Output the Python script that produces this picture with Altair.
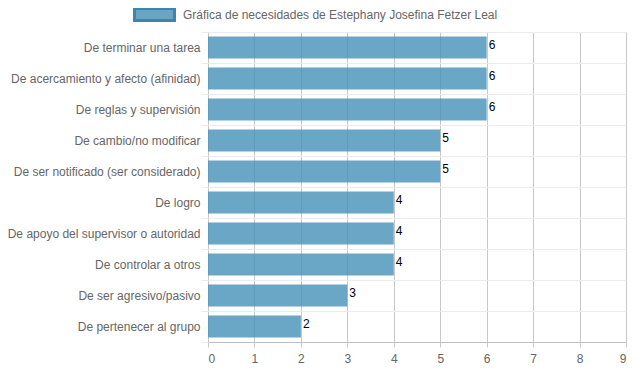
import altair as alt
import pandas as pd

categories = [
    "De terminar una tarea",
    "De acercamiento y afecto (afinidad)",
    "De reglas y supervisión",
    "De cambio/no modificar",
    "De ser notificado (ser considerado)",
    "De logro",
    "De apoyo del supervisor o autoridad",
    "De controlar a otros",
    "De ser agresivo/pasivo",
    "De pertenecer al grupo",
]
values = [6, 6, 6, 5, 5, 4, 4, 4, 3, 2]
series_name = "Gráfica de necesidades de Estephany Josefina Fetzer Leal"
x_ticks = [0, 1, 2, 3, 4, 5, 6, 7, 8, 9]

df = pd.DataFrame({
    "cat": categories,
    "val": values,
    "series": [series_name] * len(categories),
})

FONT = "Liberation Sans"

base = alt.Chart(df)

bars = base.mark_bar(size=22, opacity=0.8).encode(
    x=alt.X(
        "val:Q",
        scale=alt.Scale(domain=[0, 9], nice=False, padding=0),
        axis=alt.Axis(
            values=x_ticks, title=None, grid=True, gridColor="#c8c8c8",
            tickColor="#c8c8c8", tickSize=5, domainColor="#c0c0c0",
            labelColor="#666666", labelFontSize=12, labelPadding=6,
            labelFont=FONT,
        ),
    ),
    y=alt.Y(
        "cat:N",
        sort=categories,
        scale=alt.Scale(paddingInner=0, paddingOuter=0),
        axis=alt.Axis(
            title=None, tickBand="extent", grid=True, gridColor="#ebebeb",
            tickColor="#ebebeb", tickSize=7, domain=False, labelPadding=1,
            labelColor="#666666", labelFontSize=12, labelFont=FONT,
            labelLimit=300,
        ),
    ),
    color=alt.Color(
        "series:N",
        scale=alt.Scale(range=["#4590b6"]),
        legend=alt.Legend(
            title=None, orient="none", legendX=-75, legendY=-39,
            symbolType="M-1,-0.3H1V0.3H-1Z", symbolSize=1600,
            symbolStrokeWidth=3, symbolStrokeColor="#09699c",
            symbolOpacity=0.8, labelColor="#666666", labelFontSize=12,
            labelOffset=7, labelFont=FONT, labelLimit=500,
        ),
    ),
)

labels = base.mark_text(
    align="left", baseline="middle", dx=2, dy=-3, fontSize=12,
    color="black", font=FONT,
).encode(
    x=alt.X("val:Q"),
    y=alt.Y("cat:N", sort=categories),
    text=alt.Text("val:Q"),
)

chart = (bars + labels).properties(
    width=418,
    height=310,
    padding={"left": 200, "top": 24, "right": 5, "bottom": 22},
    autosize=alt.AutoSizeParams(type="none"),
).configure_view(stroke=None)

chart.save("out.html", embed_options={"renderer": "svg", "actions": False})
